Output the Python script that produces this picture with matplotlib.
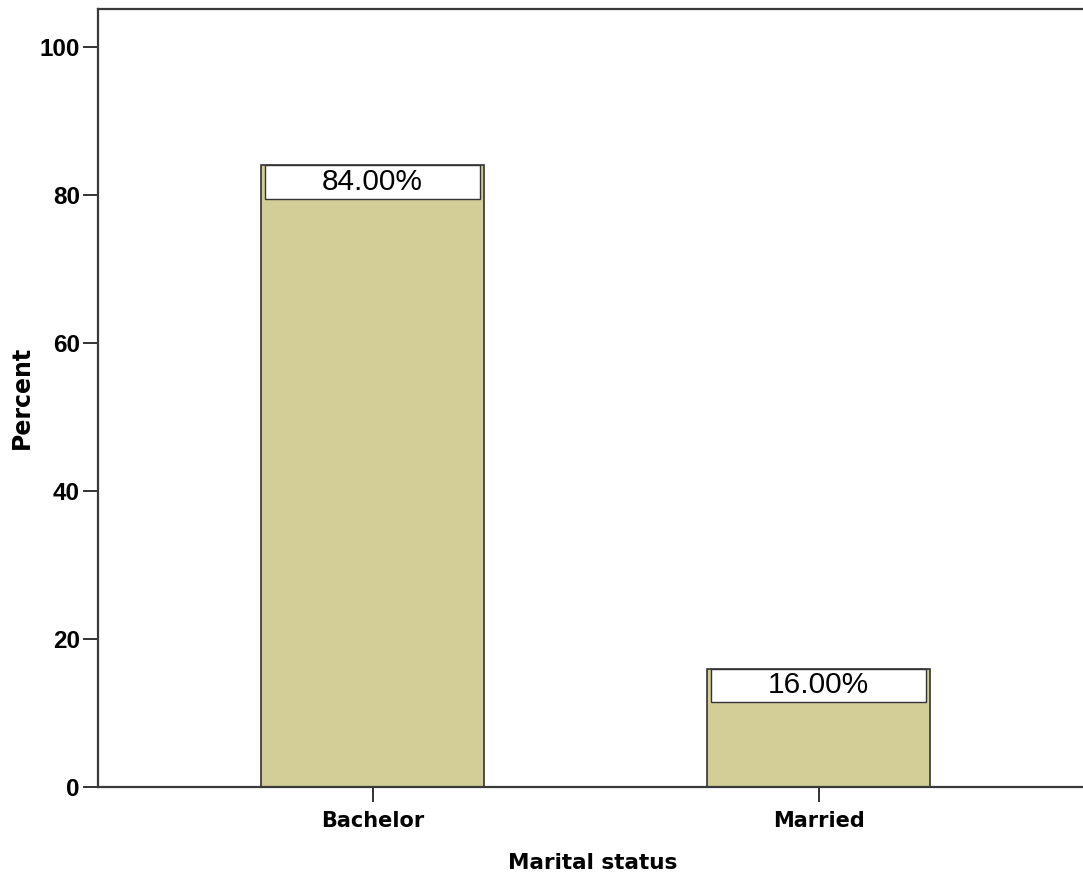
import matplotlib.pyplot as plt
from matplotlib.patches import Rectangle

# marital status distribution (percent of respondents)
categories = ["Bachelor", "Married"]
percents = [84.0, 16.0]
y_ticks = [0, 20, 40, 60, 80, 100]

bar_color = "#D3CE98"
edge_color = "#333333"
bar_width = 0.5
box_height = 4.5

fig = plt.figure(figsize=(10.83, 8.81), dpi=100)
ax = fig.add_axes([98 / 1083, 94 / 881, 985 / 1083, 778 / 881])

x = list(range(len(categories)))
ax.bar(x, percents, width=bar_width, color=bar_color, edgecolor=edge_color,
       linewidth=1.2, zorder=2)

# value labels in white boxes tucked inside the top of each bar
for xi, p in zip(x, percents):
    inner = bar_width * 0.964
    ax.add_patch(Rectangle((xi - inner / 2, p - box_height), inner, box_height,
                           facecolor="white", edgecolor=edge_color,
                           linewidth=1.0, zorder=3))
    ax.text(xi, p - box_height / 2, f"{p:.2f}%", ha="center", va="center",
            fontsize=21.5, family="Liberation Sans", color="black", zorder=4)

ax.set_xlim(-0.6155, 1.593)
ax.set_ylim(0, 105.1)
ax.set_xticks(x)
ax.set_xticklabels(categories, fontsize=15, fontweight="bold",
                   family="DejaVu Sans")
ax.set_yticks(y_ticks)
ax.set_yticklabels([str(t) for t in y_ticks], fontsize=17.5, fontweight="bold",
                   family="Liberation Sans")

ax.tick_params(axis="both", direction="out", length=11, width=1.4,
               color="#333333")
ax.tick_params(axis="y", pad=2)
ax.tick_params(axis="x", pad=6.5)

for side in ["left", "top", "bottom"]:
    ax.spines[side].set_color("#3a3a3a")
    ax.spines[side].set_linewidth(1.6)
ax.spines["right"].set_visible(False)

ax.set_xlabel("Marital status", fontsize=15.5, fontweight="bold",
              family="DejaVu Sans")
ax.set_ylabel("Percent", fontsize=17, fontweight="bold", family="DejaVu Sans")
ax.xaxis.set_label_coords(0.5025, -0.0977)
ax.xaxis.label.set_va("center")
ax.yaxis.set_label_coords(-0.077, 0.501)
ax.yaxis.label.set_va("center")

fig.savefig("out.png", dpi=100)
